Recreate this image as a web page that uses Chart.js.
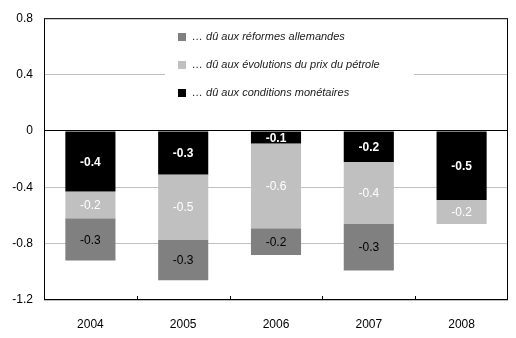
<!DOCTYPE html>
<html>
<head>
<meta charset="utf-8">
<script src="https://cdn.jsdelivr.net/npm/chart.js@4"></script>
<style>
  html, body { margin: 0; padding: 0; background: #fff; }
  #wrap { width: 516px; height: 338px; position: relative; }
</style>
</head>
<body>
<div id="wrap"><canvas id="c"></canvas></div>
<script>
// Contributions par année (stack depuis 0 vers le bas)
const years = ['2004', '2005', '2006', '2007', '2008'];
const monetaires = [-0.43, -0.31, -0.09, -0.22, -0.49];
const petrole    = [-0.19, -0.46, -0.60, -0.44, -0.17];
const reformes   = [-0.30, -0.29, -0.19, -0.33, 0];
const yTicks = [0.8, 0.4, 0, -0.4, -0.8, -1.2];

const FONT = 'Liberation Sans, Arial, sans-serif';

// cadre, petites graduations et étiquettes de valeurs
const framePlugin = {
  id: 'frame',
  afterDatasetsDraw(chart) {
    const { ctx, chartArea: a, scales: { x } } = chart;
    ctx.save();
    ctx.strokeStyle = '#000';
    ctx.lineWidth = 1;
    ctx.strokeRect(a.left + 0.5, a.top + 0.5, a.right - a.left - 1, a.bottom - a.top - 1);
    // graduations entre catégories
    for (let i = 0; i < years.length - 1; i++) {
      const px = Math.round((x.getPixelForTick(i) + x.getPixelForTick(i + 1)) / 2) + 0.5;
      ctx.beginPath();
      ctx.moveTo(px, a.bottom);
      ctx.lineTo(px, a.bottom - 4);
      ctx.stroke();
    }
    // étiquettes
    ctx.textAlign = 'center';
    ctx.textBaseline = 'middle';
    chart.data.datasets.forEach((ds, di) => {
      const meta = chart.getDatasetMeta(di);
      meta.data.forEach((bar, i) => {
        const v = ds.data[i];
        if (!v) return;
        const { y, base } = bar.getProps(['y', 'base'], true);
        ctx.fillStyle = ds.labelColor;
        ctx.font = (ds.labelBold ? 'bold ' : '') + '12px ' + FONT;
        ctx.fillText(v.toFixed(1), bar.x, (y + base) / 2 + 1);
      });
    });
    // légende à l'intérieur du graphique
    const items = chart.data.datasets.slice().reverse();
    ctx.fillStyle = '#fff';
    ctx.fillRect(165, 24, 249, 84);
    ctx.textAlign = 'left';
    ctx.font = 'italic 11px ' + FONT;
    items.forEach((ds, k) => {
      const ly = 37 + k * 28;
      ctx.fillStyle = ds.backgroundColor;
      ctx.fillRect(178, ly - 4, 8, 8);
      ctx.fillStyle = '#222';
      ctx.fillText(ds.label, 192, ly);
    });
    ctx.restore();
  }
};

new Chart(document.getElementById('c'), {
  type: 'bar',
  data: {
    labels: years,
    datasets: [
      { label: '… dû aux conditions monétaires', data: monetaires, backgroundColor: '#000000', labelColor: '#fff', labelBold: true },
      { label: '… dû aux évolutions du prix du pétrole', data: petrole, backgroundColor: '#c0c0c0', labelColor: '#fff', labelBold: false },
      { label: '… dû aux réformes allemandes', data: reformes, backgroundColor: '#808080', labelColor: '#000', labelBold: false }
    ]
  },
  options: {
    responsive: true, maintainAspectRatio: false,
    animation: false,
    layout: { padding: { top: 17, right: 8, left: 0, bottom: 0 } },
    datasets: { bar: { barPercentage: 0.54, categoryPercentage: 1, borderWidth: 0 } },
    plugins: { legend: { display: false }, tooltip: { enabled: false } },
    scales: {
      x: {
        stacked: true,
        grid: { display: false },
        border: { display: false },
        ticks: { color: '#000', font: { family: FONT, size: 12 }, padding: 9 },
        afterFit: s => { s.height = 38; }
      },
      y: {
        stacked: true,
        min: -1.2, max: 0.8,
        afterBuildTicks: s => { s.ticks = yTicks.map(v => ({ value: v })); },
        grid: {
          drawTicks: false,
          color: c => c.tick && c.tick.value === 0 ? '#000' : '#c0c0c0'
        },
        border: { display: false },
        ticks: { color: '#000', font: { family: FONT, size: 12 }, padding: 11, callback: v => String(v) },
        afterFit: s => { s.width = 44; }
      }
    }
  },
  plugins: [framePlugin]
});
</script>
</body>
</html>
